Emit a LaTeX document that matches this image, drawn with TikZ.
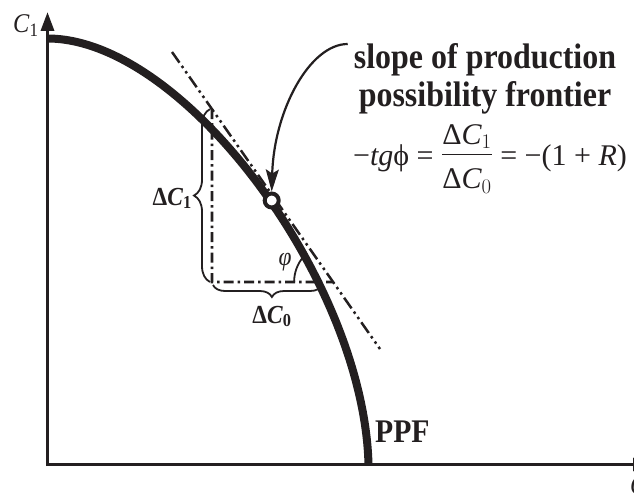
\documentclass[tikz,border=0pt]{standalone}
\usepackage{fontspec}
\usepackage{amsmath}
\setmainfont{Liberation Serif}[FakeStretch=0.9]
\newfontfamily\formulafont{Liberation Serif}
\usetikzlibrary{positioning, arrows.meta, calc, decorations.pathreplacing}
\definecolor{ink}{RGB}{35,31,32}

\begin{document}
\begin{tikzpicture}[x=1pt, y=-1pt, ink,
	axis/.style={line width=3.4pt, -{Triangle[length=19pt, width=13pt]}},
	ppf/.style={line width=8pt},
	leg/.style={line width=2.8pt, dash pattern=on 10pt off 4pt on 2.5pt off 4pt},
	tangent/.style={line width=2.5pt, dash pattern=on 13pt off 4pt on 2.5pt off 4pt on 2.5pt off 4pt},
	curly/.style={line width=1.8pt, decorate, decoration={brace, amplitude=#1}},
	dot/.style={circle, draw, fill=white, line width=4pt, minimum size=14pt, inner sep=0pt},
	pointer/.style={line width=2.2pt, -{Stealth[length=22pt, width=13pt, inset=4pt]}},
	lbl/.style={inner sep=0pt, font=\fontsize{26}{30}\selectfont}]
	\useasboundingbox (0,0) rectangle (634,497);
	\coordinate (O) at (47.5,464.5);
	\coordinate (ytip) at (47.5,12);
	\coordinate (xtip) at (652,464.5);
	\coordinate (p0) at (47.5,38.5);
	\coordinate (p1) at (368.5,464.5);
	\coordinate (t1) at (172,52);
	\coordinate (t2) at (380,349);
	\coordinate (B) at (212,282);
	\coordinate (A) at (intersection of t1--t2 and B--212,100);
	\coordinate (V) at (intersection of t1--t2 and B--300,282);
	\draw[tangent] (t1) -- (t2);
	\draw[leg] (A) -- (B) -- (V);
	\draw[line width=1.8pt] (V) ++(180:39pt) arc[start angle=180, end angle=140, radius=39pt];
	\draw[curly=16pt] ($(B)+(-2,0)$) -- ($(A)+(-2,0)$);
	\draw[curly=12pt, decoration={aspect=0.46}] ($(V)+(-11,3)$) -- ($(B)+(1,3)$);
	\draw[ppf] (p0) .. controls (184,38.5) and (364,282) .. (p1);
	\draw[axis, line width=2.7pt] (O) -- (xtip);
	\draw[axis] ($(O)+(0,1.5)$) -- (ytip);
	\node[dot] (pt) at (271.7,200.5) {};
	\node[inner sep=0pt, anchor=north, align=center, font=\bfseries\fontsize{35.5}{38}\selectfont] (title) at (485,43) {slope of production\\possibility frontier};
	\coordinate (tail) at ($(title.north west)+(-6,1)$);
	\draw[pointer] (tail) .. controls (310,44) and (274,110) .. (pt.north);
	\node[anchor=base, inner sep=0pt, font=\formulafont\fontsize{30}{34}\selectfont] (rule) at (490,161) {$\raisebox{-5pt}{−\itshape tg\upshape ϕ = }\genfrac{}{}{1.3pt}{0}{\mbox{Δ\itshape C}_1}{\mbox{\rule{0pt}{29pt}Δ\itshape C}_0}\raisebox{-5pt}{ = −(1 + \itshape R\upshape)}$};
	\node[lbl, anchor=base east, font=\bfseries\fontsize{26}{30}\selectfont] (dc1) at (192,205) {Δ\textit{C}\textsubscript{1}};
	\node[lbl, anchor=base, font=\bfseries\fontsize{26}{30}\selectfont] (dc0) at (272,323) {Δ\textit{C}\textsubscript{0}};
	\node[lbl, font=\itshape\fontsize{26}{30}\selectfont] (phi) at (285,262) {φ};
	\node[anchor=base west, inner sep=0pt, font=\bfseries\fontsize{33}{36}\selectfont] (ppfl) at (375,442) {PPF};
	\node[lbl, anchor=base west, font=\fontsize{27}{30}\selectfont] (ylab) at (13,33) {\textit{C}\textsubscript{1}};
	\node[lbl, anchor=base west, font=\fontsize{27}{30}\selectfont] (xlab) at (630,494) {\textit{C}\textsubscript{0}};
\end{tikzpicture}
\end{document}
